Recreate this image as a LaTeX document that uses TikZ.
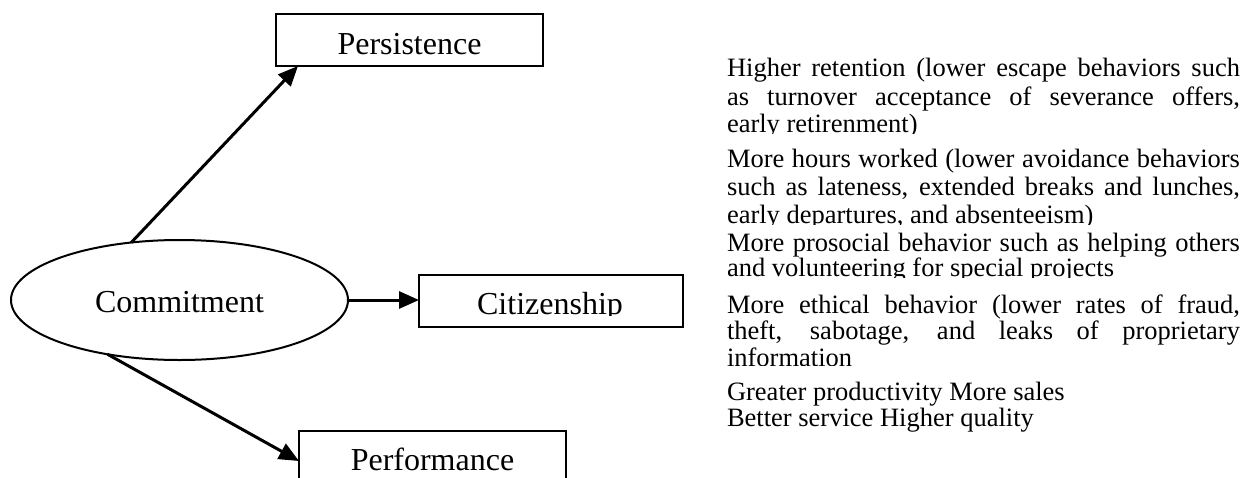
\documentclass[tikz,border=0pt]{standalone}
\usepackage{fontspec}
\setmainfont{Liberation Serif}
\usetikzlibrary{arrows.meta,shapes.geometric,calc}
\newcommand{\jline}[1]{\makebox[513pt][s]{#1}}
\begin{document}
\begin{tikzpicture}[x=1pt,y=-1pt,
  boxnode/.style={draw,line width=2pt,rectangle,inner sep=0pt,outer sep=0pt,font=\fontsize{32}{38}\selectfont},
  ovalnode/.style={draw,line width=2pt,ellipse,inner sep=0pt,outer sep=0pt,minimum width=337pt,minimum height=120pt,font=\fontsize{32}{38}\selectfont},
  lbl/.style={inner sep=0pt,outer sep=0pt,anchor=base,font=\fontsize{32}{38}\selectfont},
  txtline/.style={inner sep=0pt,outer sep=0pt,anchor=base west,font=\fontsize{26.5}{30}\selectfont},
  conn/.style={line width=3pt,-{Triangle[length=20pt,width=17pt]}}]
\useasboundingbox (0,0) rectangle (1252,477);
\clip (0,0) rectangle (1252,477);

% left diagram
\node[ovalnode, text height=24pt, text depth=0pt] (comm) at (179.5,300) {Commitment};
\node[boxnode, minimum width=267pt, minimum height=52pt, text height=28pt, text depth=0pt] (pers) at (409.5,40) {Persistence};
\node[boxnode, minimum width=264pt, minimum height=52pt] (cit) at (551,301) {};
\begin{scope}
  \clip (421,277) rectangle (681,315.5);
  \node[lbl] (citlbl) at (550,314) {Citizenship};
\end{scope}
\node[boxnode, minimum width=267pt, minimum height=60pt, text height=18pt, text depth=0pt] (perf) at (432.5,461) {Performance};

\draw[conn] (comm.130) -- ($(pers.south west)+(22,0)$);
\draw[conn] (comm.east) -- (comm.east -| cit.west);
\draw[conn] (comm.217) -- (perf.west);

% right texts
\node[txtline] (l1) at (727,76) {\jline{Higher retention (lower escape behaviors such}};
\node[txtline] (l2) at (727,105) {\jline{as turnover acceptance of severance offers,}};
\begin{scope}
  \clip (700,111) rectangle (1252,133);
  \node[txtline] (l3) at (727,132) {early retirenment)};
\end{scope}
\node[txtline] (l4) at (727,167) {\jline{More hours worked (lower avoidance behaviors}};
\node[txtline] (l5) at (727,195) {\jline{such as lateness, extended breaks and lunches,}};
\begin{scope}
  \clip (700,201) rectangle (1252,224);
  \node[txtline] (l6) at (727,223) {early departures, and absenteeism)};
\end{scope}
\node[txtline] (l7) at (727,251) {\jline{More prosocial behavior such as helping others}};
\begin{scope}
  \clip (700,257) rectangle (1252,277);
  \node[txtline] (l8) at (727,276) {and volunteering for special projects};
\end{scope}
\node[txtline] (l9) at (727,313) {\jline{More ethical behavior (lower rates of fraud,}};
\node[txtline] (l10) at (727,339) {\jline{theft, sabotage, and leaks of proprietary}};
\begin{scope}
  \clip (700,345) rectangle (1252,365.5);
  \node[txtline] (l11) at (727,366) {information};
\end{scope}
\node[txtline] (l12) at (727,400) {Greater productivity More sales};
\node[txtline] (l13) at (727,426) {Better service Higher quality};
\end{tikzpicture}
\end{document}
